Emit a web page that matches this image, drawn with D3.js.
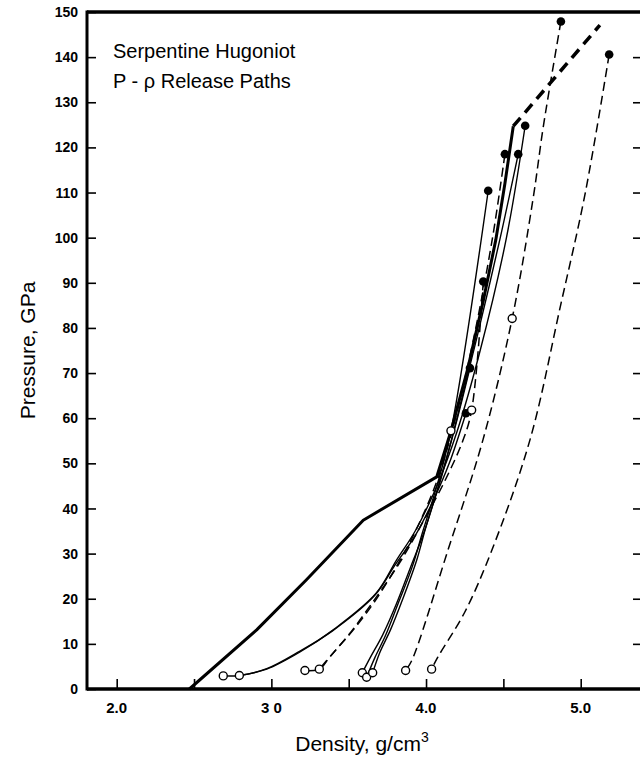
<!DOCTYPE html>
<html><head><meta charset="utf-8">
<script src="https://cdn.jsdelivr.net/npm/d3@7"></script>
<style>html,body{margin:0;padding:0;background:#fff}svg{display:block}</style>
</head><body>
<svg id="c" width="640" height="759"></svg>
<script>
// ---- data ----
const xTicks = [2.0, 2.5, 3.0, 3.5, 4.0, 4.5, 5.0];
const xTickLabels = [["2.0", 2.0], ["3 0", 3.0], ["4.0", 4.0], ["5.0", 5.0]];
const yTicks = [0, 10, 20, 30, 40, 50, 60, 70, 80, 90, 100, 110, 120, 130, 140, 150];

const hugoniotSolid = [[2.47,0],[2.905,13.1],[3.227,24.2],[3.594,37.4],[4.069,47.0],[4.16,57],[4.27,71],[4.37,86],[4.451,99.5],[4.51,112],[4.564,124.7]];
const hugoniotDashed = [[4.564,124.7],[5.124,147.1]];

const pathA = [[4.872,147.9],[4.76,125],[4.691,108.4],[4.557,82.1],[4.368,55.2],[4.142,30.8],[3.909,6.4],[3.868,4.1]];
const pathB = [[5.184,140.6],[5.03,110],[4.87,85],[4.672,55.2],[4.426,30.8],[4.25,17],[4.077,7.1],[4.036,4.4]];
const path1 = [[4.641,124.8],[4.52,100],[4.35,75],[4.2,57],[4.07,45],[3.93,35],[3.81,28.6],[3.677,21.2],[3.40,13.1],[3.185,8.2],[2.97,4.4],[2.793,3.0]];
const path2 = [[4.51,118.5],[4.43,100],[4.31,78],[4.19,60],[4.08,47],[3.96,37],[3.84,29],[3.68,20],[3.53,13.1],[3.40,8],[3.310,4.4]];
const path3 = [[4.596,118.5],[4.48,100],[4.33,78],[4.2,60],[4.1,47],[4.0,36],[3.94,28.6],[3.85,20],[3.77,13.1],[3.70,8],[3.655,3.6]];
const path4 = [[4.402,110.4],[4.161,57.2],[4.07,45],[3.98,35],[3.91,27],[3.82,19],[3.74,12],[3.67,7],[3.616,2.6]];
const path5 = [[4.370,90.3],[4.295,61.8],[4.24,55.2],[4.12,46],[3.98,37],[3.83,28],[3.65,19],[3.50,12],[3.38,7.2],[3.310,4.4],[3.217,4.1]];
const path6 = [[4.284,71.1],[4.18,57],[4.08,45],[3.99,35],[3.90,27],[3.81,19],[3.72,12],[3.64,7],[3.588,3.6]];
const path7 = [[4.258,61.1],[4.15,50],[4.05,42],[3.93,34],[3.80,27.5],[3.67,20.8],[3.40,13],[3.185,8.4],[2.97,4.5],[2.793,3.0],[2.689,2.9]];

const solidPaths = [path1, path3, path4, path6, path7];
const dashedPaths = [pathA, pathB, path2, path5];

const filledDots = [[4.872,147.9],[5.184,140.6],[4.641,124.8],[4.51,118.5],[4.596,118.5],[4.402,110.4],[4.370,90.3],[4.284,71.1],[4.258,61.1]];
const openCircles = [[4.557,82.1],[4.295,61.8],[4.161,57.2],[2.689,2.9],[2.793,3.0],[3.217,4.1],[3.310,4.4],[3.588,3.6],[3.616,2.6],[3.655,3.6],[3.868,4.1],[4.036,4.4]];

const titleLines = ["Serpentine Hugoniot", "P - \u03C1 Release Paths"];

// ---- drawing ----
const svg = d3.select("#c");
const FONT = "'Liberation Sans', Arial, Helvetica, sans-serif";
const pL = 87, pR = 642, pT = 12, pB = 689;
const x = d3.scaleLinear().domain([2, 5]).range([116.7, 580.7]);
const y = d3.scaleLinear().domain([0, 150]).range([pB, pT]);

const g = svg.append("g");

// frame
g.append("line").attr("x1", pL).attr("x2", pL).attr("y1", pT - 1.5).attr("y2", pB + 1.5).attr("stroke", "#000").attr("stroke-width", 3);
g.append("line").attr("x1", pL).attr("x2", pR).attr("y1", pT).attr("y2", pT).attr("stroke", "#000").attr("stroke-width", 3.5);
g.append("line").attr("x1", pL).attr("x2", pR).attr("y1", pB).attr("y2", pB).attr("stroke", "#000").attr("stroke-width", 3.5);
g.append("line").attr("x1", pR).attr("x2", pR).attr("y1", pT).attr("y2", pB).attr("stroke", "#000").attr("stroke-width", 3);

// y axis ticks (left and right, inward)
const yAxisL = d3.axisRight(y).tickValues(yTicks).tickSize(9).tickFormat("");
const gl = g.append("g").attr("transform", `translate(${pL},0)`).call(yAxisL);
gl.select(".domain").remove();
gl.selectAll(".tick line").attr("stroke-width", 1.6);
const yAxisR = d3.axisLeft(y).tickValues(yTicks.filter(v => v > 0 && v < 150)).tickSize(9).tickFormat("");
const gr = g.append("g").attr("transform", `translate(${pR},0)`).call(yAxisR);
gr.select(".domain").remove();
gr.selectAll(".tick line").attr("stroke-width", 1.6);

// y labels
g.selectAll(".ylab").data(yTicks).enter().append("text")
  .attr("x", 78).attr("y", d => y(d)).attr("dy", "0.36em")
  .attr("text-anchor", "end").attr("font-family", FONT).attr("font-weight", "bold")
  .attr("font-size", 14).text(d => d);

// x axis ticks (inward)
const xAxis = d3.axisTop(x).tickValues(xTicks).tickSize(10).tickFormat("");
const gx = g.append("g").attr("transform", `translate(0,${pB})`).call(xAxis);
gx.select(".domain").remove();
gx.selectAll(".tick line").attr("stroke-width", 1.6);
g.selectAll(".xlab").data(xTickLabels).enter().append("text")
  .attr("x", d => x(d[1])).attr("y", 713)
  .attr("text-anchor", "middle").attr("font-family", FONT).attr("font-weight", "bold")
  .attr("font-size", 15).text(d => d[0]);

// axis titles
const xt = g.append("text").attr("x", 362).attr("y", 751).attr("text-anchor", "middle")
  .attr("font-family", FONT).attr("font-size", 21);
xt.append("tspan").text("Density, g/cm");
xt.append("tspan").attr("dy", -9).attr("font-size", 14).text("3");
g.append("text").attr("transform", `translate(35,${(pT + pB) / 2}) rotate(-90)`)
  .attr("text-anchor", "middle").attr("font-family", FONT).attr("font-size", 21)
  .text("Pressure, GPa");

// title
g.selectAll(".title").data(titleLines).enter().append("text")
  .attr("x", 113).attr("y", (d, i) => 58 + i * 30)
  .attr("font-family", FONT).attr("font-size", 20).text(d => d);

// lines
const line = d3.line().x(d => x(d[0])).y(d => y(d[1])).curve(d3.curveCatmullRom.alpha(0.5));
const lineLin = d3.line().x(d => x(d[0])).y(d => y(d[1]));

g.selectAll(".sp").data(solidPaths).enter().append("path")
  .attr("d", line).attr("fill", "none").attr("stroke", "#000").attr("stroke-width", 1.4);
g.selectAll(".dp").data(dashedPaths).enter().append("path")
  .attr("d", line).attr("fill", "none").attr("stroke", "#000").attr("stroke-width", 1.5)
  .attr("stroke-dasharray", "9,5");

g.append("path").attr("d", lineLin(hugoniotSolid)).attr("fill", "none").attr("stroke", "#000")
  .attr("stroke-width", 3).attr("stroke-linejoin", "round");
g.append("path").attr("d", lineLin(hugoniotDashed)).attr("fill", "none").attr("stroke", "#000")
  .attr("stroke-width", 3.5).attr("stroke-dasharray", "11,7");

// markers
g.selectAll(".fd").data(filledDots).enter().append("circle")
  .attr("cx", d => x(d[0])).attr("cy", d => y(d[1])).attr("r", 4.3).attr("fill", "#000");
g.selectAll(".oc").data(openCircles).enter().append("circle")
  .attr("cx", d => x(d[0])).attr("cy", d => y(d[1])).attr("r", 4)
  .attr("fill", "#fff").attr("stroke", "#000").attr("stroke-width", 1.4);
</script>
</body></html>
